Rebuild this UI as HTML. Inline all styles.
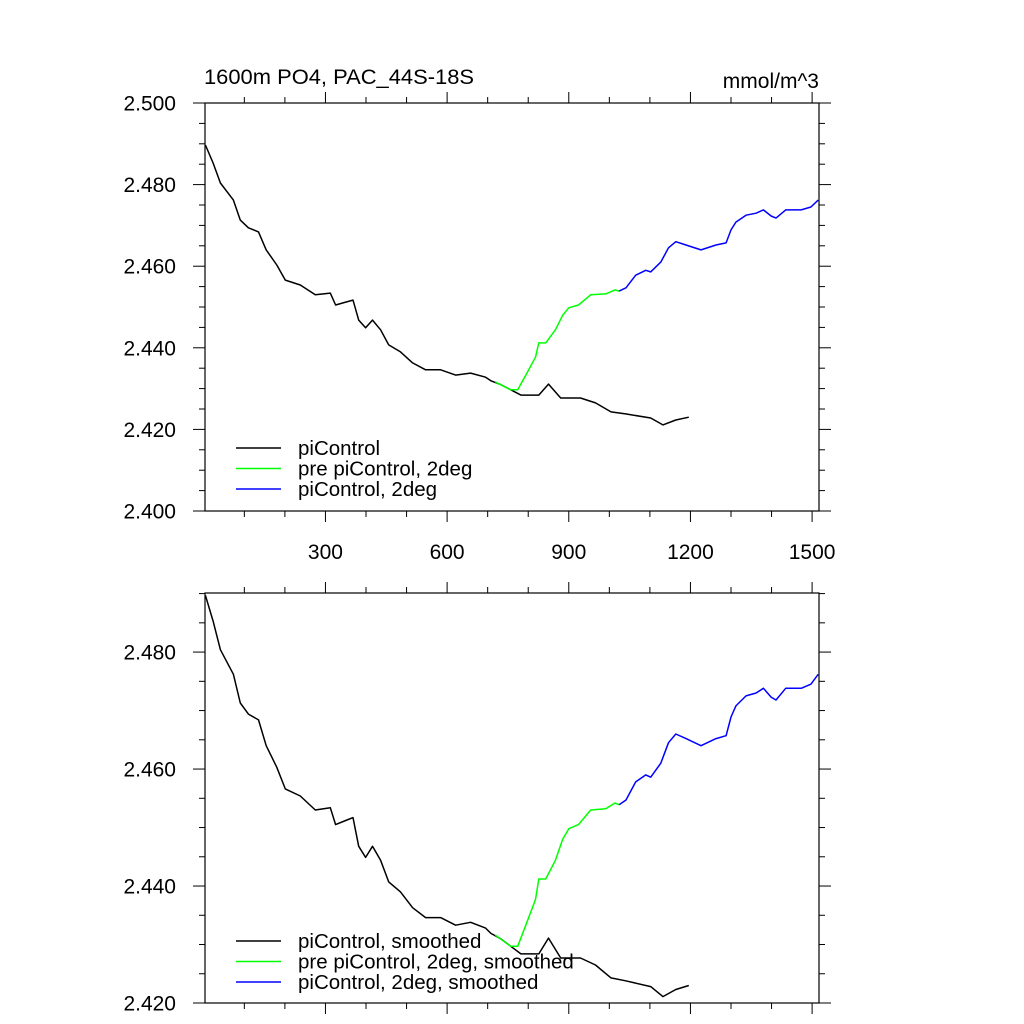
<!DOCTYPE html>
<html><head><meta charset="utf-8"><style>
html,body{margin:0;padding:0;background:#fff;}
svg{display:block;font-family:"Liberation Sans",sans-serif;}
</style></head><body>
<svg id="chart" width="1024" height="1024" viewBox="0 0 1024 1024" xmlns="http://www.w3.org/2000/svg">
<text x="204" y="84" font-size="21" textLength="270" lengthAdjust="spacingAndGlyphs">1600m PO4, PAC_44S-18S</text>
<text x="819" y="88" font-size="21" text-anchor="end">mmol/m^3</text>
</svg>
<script>
const blackYears=[4,23,41,73,90,110,135,154,180,201,238,275,312,325,350,368,382,399,416,436,456,485,515,547,584,621,658,695,708,732,757,782,826,850,880,929,966,1004,1040,1102,1132,1164,1196];
const blackVals=[2.4897,2.4853,2.4804,2.4762,2.4713,2.4694,2.4684,2.464,2.4603,2.4566,2.4554,2.453,2.4534,2.4505,2.4512,2.4517,2.4468,2.4449,2.4468,2.4444,2.4407,2.439,2.4363,2.4346,2.4346,2.4333,2.4338,2.4328,2.4319,2.431,2.4297,2.4284,2.4284,2.4311,2.4277,2.4277,2.4265,2.4243,2.4238,2.4228,2.4211,2.4223,2.4230];
const greenYears=[719,757,774,794,818,826,843,867,885,900,924,954,991,1014,1024];
const greenVals=[2.4316,2.4297,2.4297,2.4333,2.4377,2.4412,2.4412,2.4444,2.448,2.4498,2.4505,2.453,2.4532,2.4542,2.4539];
const blueYears=[1024,1041,1065,1090,1102,1127,1146,1164,1189,1226,1263,1288,1300,1312,1337,1362,1380,1399,1411,1435,1473,1497,1515];
const blueVals=[2.4539,2.4547,2.4578,2.459,2.4586,2.461,2.4645,2.466,2.4652,2.464,2.4652,2.4657,2.4689,2.4708,2.4725,2.473,2.4738,2.4723,2.4718,2.4738,2.4738,2.4745,2.4762];
const xTicks=[300,600,900,1200,1500];
const topYTicks=["2.400","2.420","2.440","2.460","2.480","2.500"];
const botYTicks=["2.420","2.440","2.460","2.480"];
const legendTop=["piControl","pre piControl, 2deg","piControl, 2deg"];
const legendBot=["piControl, smoothed","pre piControl, 2deg, smoothed","piControl, 2deg, smoothed"];

const NS="http://www.w3.org/2000/svg";
const svg=document.getElementById('chart');
const X0=205,X1=819,XMIN=3,XMAX=1517;
const sx=v=>X0+(v-XMIN)*(X1-X0)/(XMAX-XMIN);
function mk(tag,attrs,parent){const e=document.createElementNS(NS,tag);for(const k in attrs)e.setAttribute(k,attrs[k]);(parent||svg).appendChild(e);return e;}

function panel(name,Y0,Y1,vmin,vmax,yTicks,showXLabels,legend,legY){
  const g=mk('g',{});
  
  
  const sy=v=>Y1-(v-vmin)*(Y1-Y0)/(vmax-vmin);
  const fr=mk('rect',{x:X0,y:Y0,width:X1-X0,height:Y1-Y0,fill:'none',stroke:'#000','stroke-width':1.2},g);
  
  
  for(let t=100;t<=1500;t+=100){
    const x=sx(t),maj=(t%300===0),L=maj?11:6;
    mk('line',{x1:x,x2:x,y1:Y0,y2:Y0-L,stroke:'#000','stroke-width':1},g);
    mk('line',{x1:x,x2:x,y1:Y1,y2:Y1+L,stroke:'#000','stroke-width':1},g);
  }
  if(showXLabels){xTicks.forEach(t=>{const tx=mk('text',{x:sx(t),y:Y1+48,'font-size':21,'text-anchor':'middle'},g);tx.textContent=t;
    
    });}
  for(let i=Math.ceil(vmin*200-1e-6);i<=Math.floor(vmax*200+1e-6);i++){
    const v=i/200,y=sy(v),maj=(i%4===0),L=maj?12:6;
    mk('line',{x1:X0,x2:X0-L,y1:y,y2:y,stroke:'#000','stroke-width':1},g);
    mk('line',{x1:X1,x2:X1+L,y1:y,y2:y,stroke:'#000','stroke-width':1},g);
  }
  yTicks.forEach(s=>{const tx=mk('text',{x:176,y:sy(parseFloat(s))+7.5,'font-size':21,'text-anchor':'end'},g);tx.textContent=s;
    
    });
  const series=[[blackYears,blackVals,'#000','pi-control-line'],[greenYears,greenVals,'#00ff00','pre-pi-control-2deg-line'],[blueYears,blueVals,'#0000ff','pi-control-2deg-line']];
  series.forEach(([xs,vs,c,n])=>{
    const p=mk('polyline',{points:xs.map((x,i)=>sx(x).toFixed(1)+','+sy(vs[i]).toFixed(1)).join(' '),fill:'none',stroke:c,'stroke-width':1.5,'stroke-linejoin':'round'},g);
    
    
  });
  legend.forEach((s,i)=>{
    const y=legY+i*20.5;
    const l=mk('line',{x1:236,x2:281,y1:y,y2:y,stroke:series[i][2],'stroke-width':1.5},g);
    
    
    const tx=mk('text',{x:298,y:y+7,'font-size':20.5},g);tx.textContent=s;
    
    
  });
}
panel('top-panel',103,511,2.4,2.5,topYTicks,true,legendTop,448);
panel('bottom-panel',593,1003,2.42,2.4901,botYTicks,false,legendBot,941);
</script>
</body></html>
